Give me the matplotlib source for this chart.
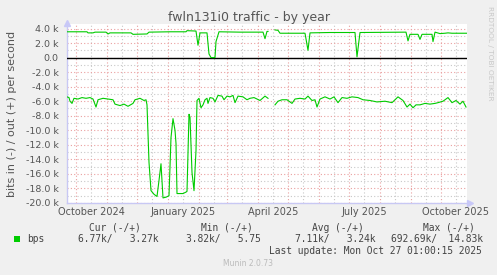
import matplotlib
matplotlib.use('Agg')
import matplotlib.pyplot as plt
import matplotlib.dates as mdates
from matplotlib.ticker import FixedLocator, FuncFormatter
from datetime import datetime, timedelta
import numpy as np

# ---------------- data ----------------
title = "fwln131i0 traffic - by year"
ylabel = "bits in (-) / out (+) per second"
start = datetime(2024, 9, 22, 1, 0, 15)
end = datetime(2025, 10, 27, 1, 0, 15)

# out (+) traffic, kbit/s, by day offset from start
out_days = [0, 13, 20, 21, 26, 28, 39, 41, 43, 64, 66, 80, 82, 103, 119, 120, 129, 131,
            133, 140, 142, 144, 148, 149, 152, 173, 196, 198, 200, 201, 205,
            208, 211, 213, 238, 241, 243, 263, 288, 290, 293, 339, 341, 343, 351,
            353, 355, 365, 366, 368, 373, 378, 381, 385, 400]
out_kbps = [3.55, 3.55, 3.55, 3.4, 3.4, 3.5, 3.5, 3.25, 3.4, 3.4, 3.2, 3.25, 3.5, 3.55, 3.55, 3.7, 3.65, 1.7,
            3.4, 3.4, 0.5, 0.0, 0.0, 2.2, 3.55, 3.5, 3.5, 2.6, 3.6, 3.6, np.nan,
            3.8, 3.75, 3.35, 3.35, 1.0, 3.4, 3.45, 3.45, 0.1, 3.45, 3.5, 2.3, 3.2, 3.2,
            2.5, 3.2, 3.2, 2.2, 3.5, 3.3, 3.35, 3.4, 3.35, 3.35]

# in (-) traffic, kbit/s (drawn negative), by day offset from start
in_days = [0, 2, 3, 5, 7, 11, 15, 19, 23, 26, 29, 31, 36, 41, 46, 48, 53, 57, 61, 66, 68, 73, 77, 79,
           80, 82, 84, 87, 90, 92, 94, 96, 99, 102, 104, 106, 108, 109, 110, 116, 119, 120, 122,
           123, 125, 127, 129, 130, 132, 134, 136, 138, 140, 141, 143, 146, 148, 151, 155, 157,
           160, 163, 166, 168, 171, 176, 180, 183, 187, 193, 198, 201, 205,
           208, 211, 215, 220, 225, 228, 233, 238, 241, 245, 248, 250, 253, 258, 263, 267, 271,
           275, 280, 285, 291, 296, 303, 310, 318, 325, 331, 336, 340, 343, 346, 349, 353, 358,
           363, 368, 371, 376, 381, 385, 389, 393, 396, 399]
in_kbps = [-5.4, -5.5, -6.0, -6.3, -5.6, -5.7, -5.5, -5.6, -5.5, -5.7, -6.8, -5.8, -5.6, -5.7, -5.8,
           -6.4, -6.6, -6.4, -6.7, -6.3, -5.8, -5.6, -5.9, -5.8,
           -6.5, -14.4, -18.3, -18.8, -19.1, -16.9, -14.6, -19.3, -19.2, -19.0, -11.0, -8.4, -10.0,
           -11.8, -18.7, -18.7, -18.5, -18.4, -7.8,
           -8.2, -15.8, -18.3, -12.8, -5.9, -5.6, -6.9, -6.5, -5.8, -5.6, -6.3, -5.5, -5.6, -6.1,
           -5.2, -5.3, -5.8,
           -5.3, -5.4, -5.2, -6.2, -5.3, -5.4, -5.8, -5.6, -5.5, -5.9, -5.3, -5.6, np.nan,
           -6.5, -6.0, -5.8, -5.8, -6.3, -5.7, -5.6, -5.7, -5.3, -5.9, -5.8, -6.8, -5.7, -5.4,
           -5.7, -5.4, -6.2,
           -5.5, -5.6, -5.4, -5.5, -5.8, -5.9, -6.1, -6.0, -6.2, -5.4, -5.9, -6.8, -6.4, -6.9,
           -6.5, -6.5, -6.3,
           -6.4, -6.3, -6.2, -6.0, -5.5, -6.2, -5.9, -6.4, -6.0, -6.8]

y_ticks = [4, 2, 0, -2, -4, -6, -8, -10, -12, -14, -16, -18, -20]
x_label_months = [10, 1, 4, 7]

legend_name = "bps"
legend_headers = ["Cur (-/+)", "Min (-/+)", "Avg (-/+)", "Max (-/+)"]
legend_values = ["6.77k/   3.27k", "3.82k/   5.75", "7.11k/   3.24k", "692.69k/  14.83k"]
last_update = "Last update: Mon Oct 27 01:00:15 2025"
footer = "Munin 2.0.73"
side_text = "RRDTOOL / TOBI OETIKER"

# ---------------- drawing ----------------
W, H = 497, 275
BG = '#f0f0f0'
GREEN = '#00cc00'
TXT = '#555555'

fig = plt.figure(figsize=(W / 100, H / 100), dpi=100, facecolor=BG)


def fx(x):
    return x / W


def fy(y):
    return 1 - y / H


ax_left, ax_right, ax_top, ax_bottom = 67, 467, 24, 203
ax = fig.add_axes([fx(ax_left), fy(ax_bottom), (ax_right - ax_left) / W, (ax_bottom - ax_top) / H])
ax.set_facecolor('white')

out_dates = [start + timedelta(days=d) for d in out_days]
in_dates = [start + timedelta(days=d) for d in in_days]

ax.set_xlim(start, end)
ax.set_ylim(-20, 4.62)

# grid
months = mdates.MonthLocator(bymonthday=1)
mids = mdates.MonthLocator(bymonthday=16)
ax.xaxis.set_major_locator(months)
ax.xaxis.set_minor_locator(mids)
ax.xaxis.set_major_formatter(FuncFormatter(lambda v, p: ""))


def mid_fmt(v, p):
    d = mdates.num2date(v)
    return d.strftime("%B %Y") if d.month in x_label_months else ""


ax.xaxis.set_minor_formatter(FuncFormatter(mid_fmt))

ax.yaxis.set_major_locator(FixedLocator(y_ticks))
ax.yaxis.set_minor_locator(FixedLocator([t - 1 for t in y_ticks] + [5]))
ax.yaxis.set_major_formatter(FuncFormatter(lambda v, p: "0.0" if abs(v) < 1e-9 else f"{v:.1f} k"))

dots = (0, (1, 2))
ax.grid(which='minor', color='#c8c8c8', linestyle=dots, linewidth=0.8)
ax.grid(which='major', color='#eaa0a0', linestyle=dots, linewidth=0.8)
ax.set_axisbelow(True)

ax.tick_params(axis='both', which='both', length=0, colors=TXT)
ax.tick_params(axis='y', which='major', labelsize=6.8, pad=6)
ax.tick_params(axis='x', which='minor', labelsize=7, pad=3)

for s in ['top', 'right']:
    ax.spines[s].set_visible(False)
for s in ['left', 'bottom']:
    ax.spines[s].set_color('#c8c8f4')
    ax.spines[s].set_linewidth(1.0)

ax.axhline(0, color='black', linewidth=1.0, zorder=3)

ax.plot(out_dates, out_kbps, color=GREEN, linewidth=0.8, zorder=4)
ax.plot(in_dates, in_kbps, color=GREEN, linewidth=0.8, zorder=4)

# axis arrows
ax.plot([1.008], [0], marker='>', markersize=4, color='#c8c8f8', transform=ax.transAxes, clip_on=False)
ax.plot([0], [1.005], marker='^', markersize=4, color='#c8c8f8', transform=ax.transAxes, clip_on=False)

# texts
fig.text(0.5, fy(17.5), title, ha='center', va='center', fontsize=9, color=TXT)
fig.text(fx(12), fy(113.5), ylabel, rotation=90, ha='center', va='center', fontsize=8, color=TXT)
fig.text(fx(490), fy(53), side_text, rotation=270, ha='center', va='center', fontsize=5.3, color='#c8c8c8')

mono = 'DejaVu Sans Mono'
hdr_x = [89, 201, 312, 423]
val_x = [78, 186, 295, 391]
for t, x in zip(legend_headers, hdr_x):
    fig.text(fx(x), fy(228), t, ha='left', va='center', fontsize=6.9, family=mono, color='#444444')
for t, x in zip(legend_values, val_x):
    fig.text(fx(x), fy(239), t, ha='left', va='center', fontsize=6.9, family=mono, color='#444444')
fig.text(fx(27), fy(239), legend_name, ha='left', va='center', fontsize=6.9, family=mono, color='#444444')
fig.patches.append(plt.Rectangle((fx(14), fy(242)), 6 / W, 6 / H, transform=fig.transFigure,
                                 facecolor=GREEN, edgecolor='none'))
fig.text(fx(482), fy(251), last_update, ha='right', va='center', fontsize=6.9, family=mono, color='#444444')
fig.text(fx(248), fy(264), footer, ha='center', va='center', fontsize=5.5, color='#bbbbbb')

fig.savefig('out.png', dpi=100, facecolor=BG)
